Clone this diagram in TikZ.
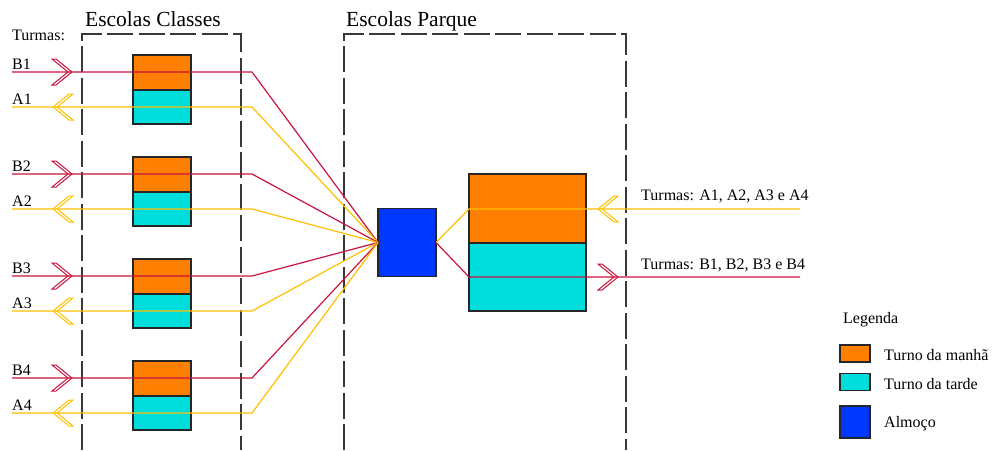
\documentclass[tikz,border=0pt]{standalone}
\usepackage{fontspec}
\setmainfont{Liberation Serif}
\definecolor{orangeC}{RGB}{255,128,0}
\definecolor{cyanC}{RGB}{0,221,221}
\definecolor{blueC}{RGB}{0,56,255}
\definecolor{redC}{RGB}{200,20,62}
\definecolor{yelC}{RGB}{255,192,0}
\begin{document}
\begin{tikzpicture}[x=1pt,y=-1pt,
  zone/.style={draw=black!78, line width=1.4pt, dash pattern=on 26pt off 5.5pt},
  morning/.style={draw=black!85, line width=1.3pt, fill=orangeC, inner sep=0, outer sep=0},
  afternoon/.style={draw=black!85, line width=1.3pt, fill=cyanC, inner sep=0, outer sep=0},
  lunchbox/.style={draw=black!85, line width=1.3pt, fill=blueC, inner sep=0, outer sep=0},
  redline/.style={draw=redC, line width=1.2pt},
  yelline/.style={draw=yelC, line width=1.2pt},
  lbl/.style={font=\fontsize{16}{19}\selectfont, anchor=base west, inner sep=0},
  ttl/.style={font=\fontsize{21.5}{25}\selectfont, anchor=base west, inner sep=0},
  chevron/.pic={\draw[line width=1pt, line join=miter] (0,0) -- (-16,-13) -- (-20,-13) -- (-4,0) -- (-20,13) -- (-16,13) -- cycle;}
]
\useasboundingbox (0,0) rectangle (992,450);

% zones
\draw[zone] (82,450) -- (82,34) -- (241,34) -- (241,450);
\draw[zone] (344,450) -- (344,34) -- (626,34) -- (626,450);
\node[ttl] (tc) at (85,26.5) {Escolas Classes};
\node[ttl] (tp) at (346,26.5) {Escolas Parque};
\node[lbl] (turmas) at (12,40) {Turmas:};

% small boxes
\foreach \i/\o in {1/0,2/102,3/204,4/306}{
  \node[morning, minimum width=58pt, minimum height=35pt] (m\i) at (162,72.5+\o) {};
  \node[afternoon, minimum width=58pt, minimum height=34pt] (t\i) at (162,107+\o) {};
}

% lunch and big box
\node[lunchbox, minimum width=58pt, minimum height=68pt] (lunch) at (407,242.5) {};
\node[morning, minimum width=117pt, minimum height=69pt] (bm) at (527.5,208.5) {};
\node[afternoon, minimum width=117pt, minimum height=68pt] (bt) at (527.5,277) {};

% left connectors
\foreach \i/\o in {1/0,2/102,3/204,4/306}{
  \coordinate (bs\i) at (12,72+\o);
  \coordinate (bk\i) at (252,72+\o);
  \coordinate (as\i) at (12,107+\o);
  \coordinate (ak\i) at (252,107+\o);
  \draw[redline] (bs\i) -- (bk\i) -- (lunch.west);
  \draw[yelline] (as\i) -- (ak\i) -- (lunch.west);
  \pic[color=redC] at (72,72+\o) {chevron};
  \pic[color=yelC, xscale=-1] at (53,107+\o) {chevron};
  \node[lbl] (lb\i) at (12,69+\o) {B\i};
  \node[lbl] (la\i) at (12,104+\o) {A\i};
}

% right connectors
\coordinate (ye) at (800,209);
\coordinate (yk) at (469,209);
\coordinate (re) at (800,277);
\coordinate (rk) at (469,277);
\draw[yelline] (ye) -- (yk) -- (lunch.east);
\draw[redline] (lunch.east) -- (rk) -- (re);
\pic[color=yelC, xscale=-1] at (598,209) {chevron};
\pic[color=redC] at (618,277) {chevron};
\node[lbl] (ta) at (641,200) {Turmas: A1, A2, A3 e A4};
\node[lbl] (tb) at (641,269) {Turmas: B1, B2, B3 e B4};

% legend
\node[lbl] (leg) at (843,323) {Legenda};
\node[morning, minimum width=30pt, minimum height=17pt] (lgm) at (855,353.5) {};
\node[afternoon, minimum width=30pt, minimum height=17pt] (lgt) at (855,382) {};
\node[lunchbox, minimum width=30pt, minimum height=32pt] (lgl) at (855,422) {};
\node[lbl] (lgmt) at (884,360) {Turno da manhã};
\node[lbl] (lgtt) at (884,389) {Turno da tarde};
\node[lbl] (lglt) at (884,427) {Almoço};
\end{tikzpicture}
\end{document}
